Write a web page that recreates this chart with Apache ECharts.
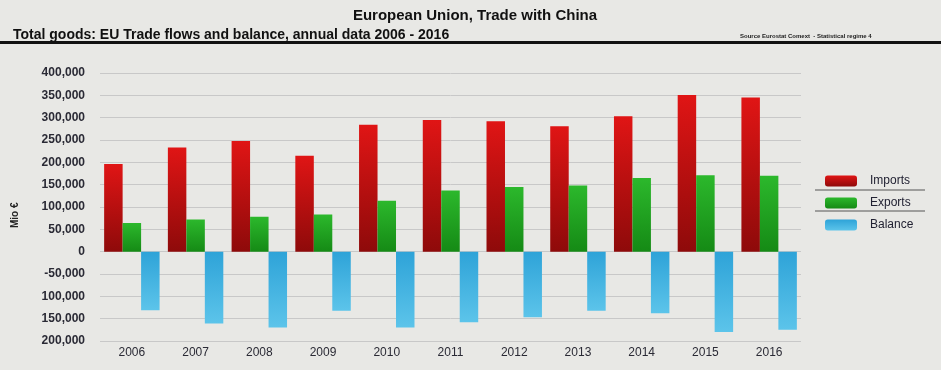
<!DOCTYPE html>
<html>
<head>
<meta charset="utf-8">
<script src="https://cdn.jsdelivr.net/npm/echarts@6/dist/echarts.min.js"></script>
<style>
  html, body { margin: 0; padding: 0; background: #e8e8e5; }
  #main { width: 941px; height: 370px; }
</style>
</head>
<body>
<div id="main"></div>
<script>
// data (Mio €)
var years = ['2006', '2007', '2008', '2009', '2010', '2011', '2012', '2013', '2014', '2015', '2016'];
var imports = [196000, 233000, 248000, 215000, 284000, 295000, 292000, 281000, 303000, 351000, 345000];
var exports = [64000, 72000, 78000, 83000, 114000, 137000, 145000, 148000, 165000, 171000, 170000];
var balance = [-131000, -161000, -170000, -132000, -170000, -158000, -147000, -132000, -138000, -180000, -175000];
var tickLabels = {
  '400000': '400,000', '350000': '350,000', '300000': '300,000', '250000': '250,000',
  '200000': '200,000', '150000': '150,000', '100000': '100,000', '50000': '50,000',
  '0': '0', '-50000': '-50,000', '-100000': '100,000', '-150000': '150,000', '-200000': '200,000'
};

var myChart = echarts.init(document.getElementById('main'));

function grad(top, bottom) {
  return new echarts.graphic.LinearGradient(0, 0, 0, 1, [
    { offset: 0, color: top }, { offset: 1, color: bottom }
  ]);
}

var option = {
  backgroundColor: '#e8e8e5',
  textStyle: { fontFamily: 'Liberation Sans, Arial, sans-serif' },
  title: [{
    text: 'European Union, Trade with China',
    left: 470, top: 3, textAlign: 'center',
    textStyle: { fontSize: 15, fontWeight: 'bold', color: '#111' }
  }, {
    text: 'Total goods: EU Trade flows and balance, annual data 2006 - 2016',
    left: 8, top: 23,
    textStyle: { fontSize: 14, fontWeight: 'bold', color: '#111' }
  }, {
    text: 'Source Eurostat Comext  - Statistical regime 4',
    left: 735, top: 28,
    textStyle: { fontSize: 6, fontWeight: 'bold', color: '#222' }
  }],
  graphic: [
    { type: 'rect', shape: { x: 0, y: 41, width: 941, height: 3 }, style: { fill: '#111' } },
    { type: 'line', shape: { x1: 815, y1: 190, x2: 925, y2: 190 }, style: { stroke: '#555', lineWidth: 1 } },
    { type: 'line', shape: { x1: 815, y1: 211, x2: 925, y2: 211 }, style: { stroke: '#555', lineWidth: 1 } },
    { type: 'text', x: 15, y: 228, rotation: Math.PI / 2,
      style: { text: 'Mio €', fontSize: 10, fontWeight: 'bold', fill: '#222',
               textAlign: 'left', textVerticalAlign: 'middle' } }
  ],
  legend: {
    orient: 'vertical',
    left: 820, top: 170,
    itemWidth: 32, itemHeight: 11, itemGap: 10,
    textStyle: { fontSize: 12, color: '#223', padding: [0, 0, 0, 8] },
    data: ['Imports', 'Exports', 'Balance']
  },
  grid: { left: 100, right: 140, top: 73, bottom: 29, containLabel: false },
  xAxis: {
    type: 'category',
    data: years,
    position: 'bottom',
    axisLine: { show: false, onZero: false },
    axisTick: { show: false },
    axisLabel: { fontSize: 12, color: '#2a2a35', margin: 6 }
  },
  yAxis: {
    type: 'value',
    min: -200000, max: 400000, interval: 50000,
    axisLine: { show: false },
    axisTick: { show: false },
    splitLine: { lineStyle: { color: '#c8c8c8' } },
    axisLabel: {
      fontSize: 12, fontWeight: 'bold', color: '#2a2a35', margin: 15,
      formatter: function (v) { return tickLabels[String(v)]; }
    }
  },
  series: [{
    name: 'Imports', type: 'bar', data: imports,
    barGap: '0%', barCategoryGap: '13%',
    itemStyle: { color: grad('#e01515', '#8e0a0a') }
  }, {
    name: 'Exports', type: 'bar', data: exports,
    itemStyle: { color: grad('#2cb82c', '#158a15') }
  }, {
    name: 'Balance', type: 'bar', data: balance,
    itemStyle: { color: grad('#2ea3d8', '#5cc4ea') }
  }]
};
myChart.setOption(option);
</script>
</body>
</html>
